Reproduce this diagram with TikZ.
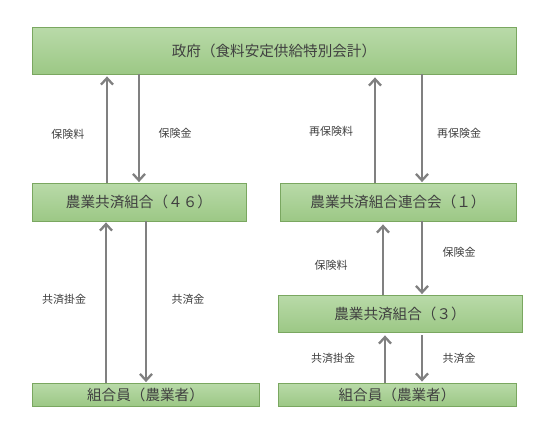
\documentclass[tikz,border=0pt]{standalone}
\usepackage{fontspec}
\setmainfont{Noto Sans CJK JP}
\usetikzlibrary{arrows.meta}
\definecolor{boxtop}{HTML}{B9DAA9}
\definecolor{boxbot}{HTML}{9CC885}
\definecolor{boxline}{HTML}{7AA760}
\definecolor{arr}{HTML}{808080}
\definecolor{txt}{HTML}{404040}
\begin{document}
\begin{tikzpicture}[x=1pt,y=-1pt,
  box/.style={draw=boxline, line width=0.8pt, top color=boxtop, bottom color=boxbot,
    text=txt, font=\fontsize{14.6}{16}\selectfont, inner sep=0pt},
  lbl/.style={text=txt, font=\fontsize{11}{13}\selectfont, inner sep=0pt},
  flow/.style={draw=arr, line width=2.3pt, -{Straight Barb[length=6.5pt,width=12pt]}}]
\useasboundingbox (0,0) rectangle (542,448);
\fill[white] (0,0) rectangle (542,448);
% boxes
\node[box, minimum width=484pt, minimum height=47pt] (gov) at (274,50.5) {政府（食料安定供給特別会計）};
\node[box, minimum width=214pt, minimum height=38pt] (k46) at (139,202) {農業共済組合（４６）};
\node[box, minimum width=236pt, minimum height=38pt] (ren) at (398,202) {農業共済組合連合会（１）};
\node[box, minimum width=244pt, minimum height=37pt] (k3) at (400,313.5) {農業共済組合（３）};
\node[box, minimum width=227pt, minimum height=23pt] (memL) at (145.5,394.5) {組合員（農業者）};
\node[box, minimum width=238pt, minimum height=23pt] (memR) at (397,394.5) {組合員（農業者）};
% arrow columns
\coordinate (a1) at (107,0);
\coordinate (a2) at (139,0);
\coordinate (a3) at (106,0);
\coordinate (a4) at (146,0);
\coordinate (b1) at (375,0);
\coordinate (b2) at (422,0);
\coordinate (b3) at (383,0);
\coordinate (b4) at (385,0);
% left
\draw[flow, shorten >=2pt] (k46.north -| a1) -- (gov.south -| a1);
\draw[flow, shorten >=0.5pt] (gov.south -| a2) -- (k46.north -| a2);
\draw[flow, shorten >=1pt] (memL.north -| a3) -- (k46.south -| a3);
\draw[flow, shorten >=0.5pt] (k46.south -| a4) -- (memL.north -| a4);
% right
\draw[flow, shorten >=3pt] (ren.north -| b1) -- (gov.south -| b1);
\draw[flow, shorten >=0.5pt] (gov.south -| b2) -- (ren.north -| b2);
\draw[flow, shorten >=3pt] (k3.north -| b3) -- (ren.south -| b3);
\draw[flow, shorten >=0.5pt] (ren.south -| b2) -- (k3.north -| b2);
\draw[flow, shorten >=3pt] (memR.north -| b4) -- (k3.south -| b4);
\draw[flow, shorten <=3pt, shorten >=1pt] (k3.south -| b2) -- (memR.north -| b2);
% labels
\node[lbl] (l1) at (68,134) {保険料};
\node[lbl] (l2) at (175,133) {保険金};
\node[lbl] (l3) at (331,131) {再保険料};
\node[lbl] (l4) at (459,133) {再保険金};
\node[lbl] (l5) at (64,299) {共済掛金};
\node[lbl] (l6) at (188,299) {共済金};
\node[lbl] (l7) at (331,265) {保険料};
\node[lbl] (l8) at (459,252) {保険金};
\node[lbl] (l9) at (333,358) {共済掛金};
\node[lbl] (l10) at (459,358) {共済金};
\end{tikzpicture}
\end{document}
